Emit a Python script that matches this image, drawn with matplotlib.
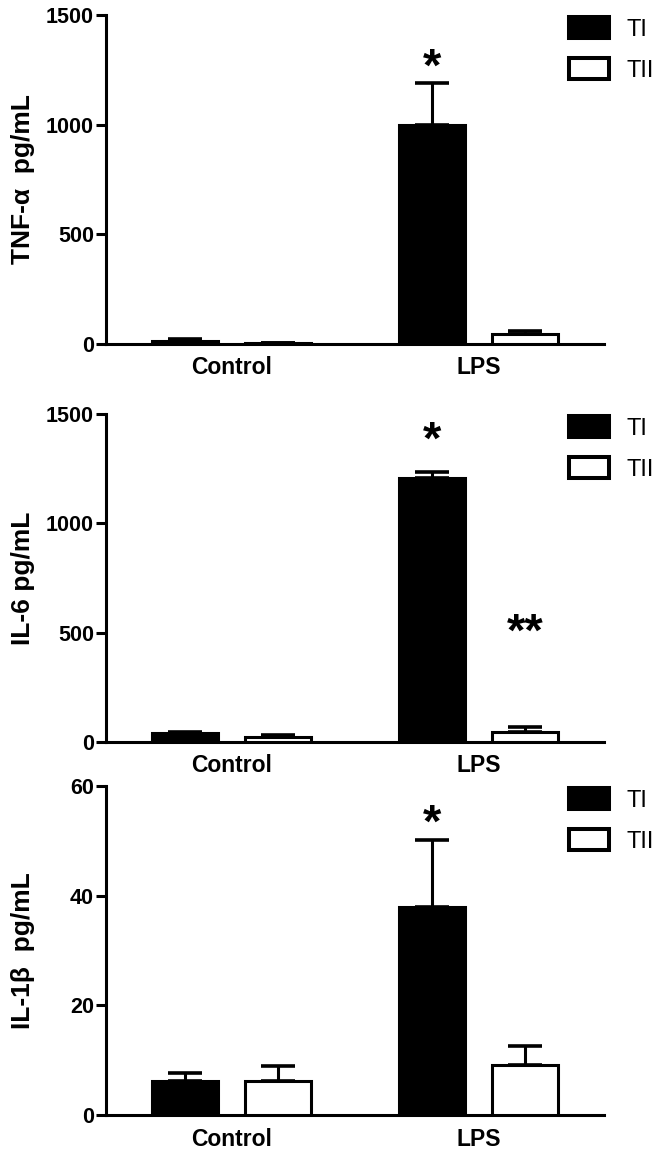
import matplotlib
matplotlib.use('Agg')
import matplotlib.pyplot as plt
import numpy as np

# data
groups = ['Control', 'LPS']
series = ['TI', 'TII']

tnf_ti = [15, 1000]
tnf_ti_err = [7, 190]
tnf_tii = [4, 45]
tnf_tii_err = [2, 15]

il6_ti = [39, 1206]
il6_ti_err = [7, 30]
il6_tii = [24, 45]
il6_tii_err = [10, 22]

il1b_ti = [6.2, 37.9]
il1b_ti_err = [1.5, 12.2]
il1b_tii = [6.2, 9.1]
il1b_tii_err = [2.8, 3.4]

# significance marks: (group index, series index, y position, text)
tnf_marks = [(1, 0, 1318, '*')]
il6_marks = [(1, 0, 1436, '*'), (1, 1, 558, '**')]
il1b_marks = [(1, 0, 55.6, '*')]

panels = [
    ('TNF-α  pg/mL', tnf_ti, tnf_ti_err, tnf_tii, tnf_tii_err, [0, 500, 1000, 1500], tnf_marks),
    ('IL-6 pg/mL', il6_ti, il6_ti_err, il6_tii, il6_tii_err, [0, 500, 1000, 1500], il6_marks),
    ('IL-1β  pg/mL', il1b_ti, il1b_ti_err, il1b_tii, il1b_tii_err, [0, 20, 40, 60], il1b_marks),
]

plt.rcParams['font.family'] = ['Liberation Sans', 'DejaVu Sans']

W, H = 662, 1155
fig = plt.figure(figsize=(W / 100, H / 100), dpi=100)

# axes boxes in pixels (left, top, right, bottom)
boxes = [(106, 15, 604, 344), (106, 414, 604, 742), (106, 786, 604, 1115)]

x = np.arange(len(groups))
width = 0.268
off = 0.189
lw = 2.2
star_fs = 34

for (ylab, ti, ti_err, tii, tii_err, ticks, marks), (l, t, r, b) in zip(panels, boxes):
    ax = fig.add_axes([l / W, 1 - b / H, (r - l) / W, (b - t) / H])
    ax.bar(x - off, ti, width, color='black', edgecolor='black', linewidth=lw, zorder=3)
    ax.bar(x + off, tii, width, color='white', edgecolor='black', linewidth=lw, zorder=3)
    ax.errorbar(x - off, ti, yerr=[np.zeros(len(ti)), ti_err], fmt='none', ecolor='black',
                elinewidth=lw, capsize=12, capthick=lw + 0.4, zorder=2)
    ax.errorbar(x + off, tii, yerr=[np.zeros(len(tii)), tii_err], fmt='none', ecolor='black',
                elinewidth=lw, capsize=12, capthick=lw + 0.4, zorder=2)

    for gi, si, yv, txt in marks:
        xp = gi - off if si == 0 else gi + off
        ax.annotate(txt, (xp, yv), xytext=(0, -0.555 * star_fs), textcoords='offset points',
                    ha='center', va='baseline', fontsize=star_fs, fontweight='bold')

    ax.set_xlim(-0.51, 1.51)
    ax.set_ylim(0, ticks[-1])
    ax.set_yticks(ticks)
    ax.set_xticks(x)
    ax.set_xticklabels(groups, fontsize=16.5, fontweight='bold')
    for lab in ax.get_yticklabels():
        lab.set_fontsize(15.5)
        lab.set_fontweight('bold')
    ax.tick_params(axis='x', length=0, pad=9)
    ax.tick_params(axis='y', length=7.2, width=lw, pad=1.5)
    for s in ['top', 'right']:
        ax.spines[s].set_visible(False)
    for s in ['left', 'bottom']:
        ax.spines[s].set_linewidth(lw)
    ax.set_ylabel(ylab, fontsize=19, fontweight='bold')
    ax.yaxis.set_label_coords(-0.142, 0.5)

    leg = ax.legend(series, loc='center left', bbox_to_anchor=(0.93, 0.895), frameon=False,
                    fontsize=17, handlelength=1.7, handleheight=0.97, labelspacing=0.74,
                    handletextpad=0.75, borderpad=0, borderaxespad=0)
    for p in leg.get_patches():
        p.set_linewidth(2.9)

plt.savefig('out.png', dpi=100)
